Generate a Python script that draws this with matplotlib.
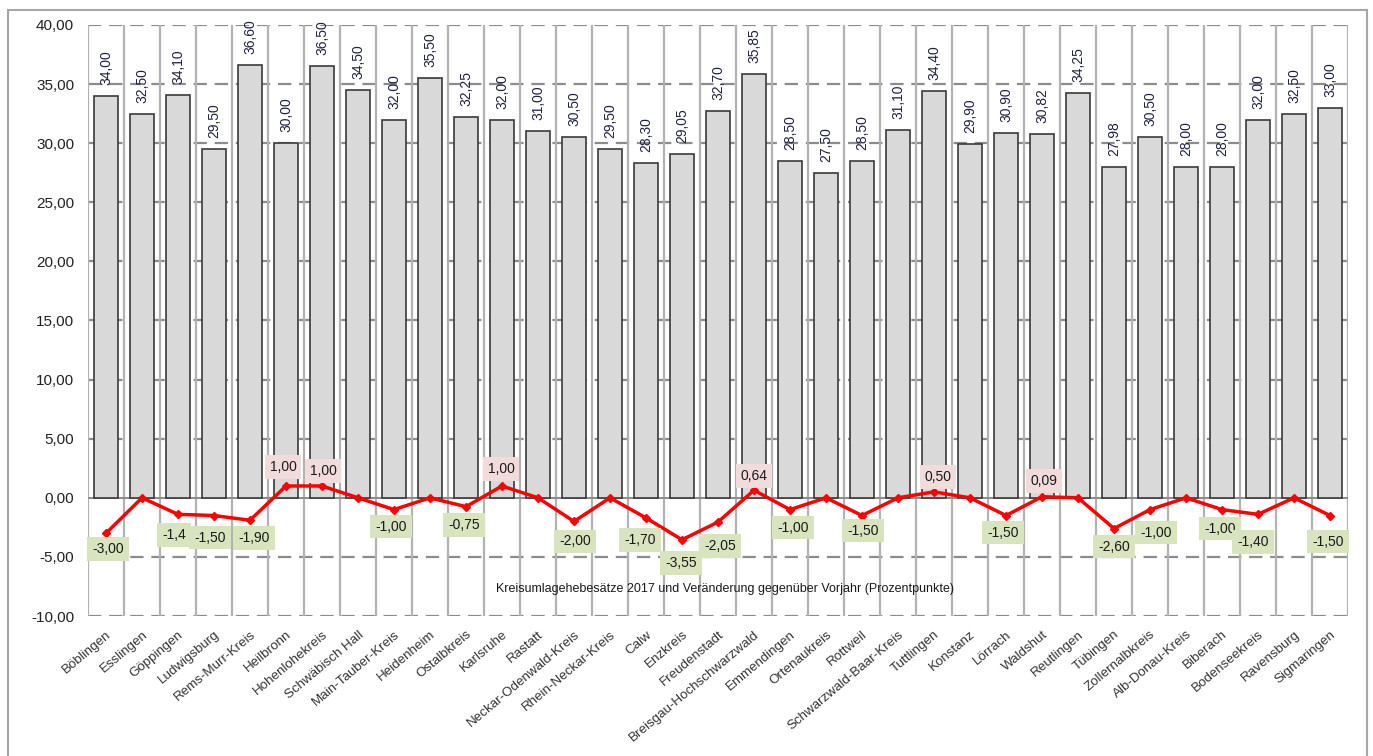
import matplotlib
matplotlib.use("Agg")
import matplotlib.pyplot as plt
import matplotlib.patches as patches
from matplotlib.ticker import FuncFormatter, MultipleLocator
import numpy as np

plt.rcParams['font.family'] = ['Liberation Sans', 'DejaVu Sans']

# Daten
kreise = ["Böblingen", "Esslingen", "Göppingen", "Ludwigsburg", "Rems-Murr-Kreis",
          "Heilbronn", "Hohenlohekreis", "Schwäbisch Hall", "Main-Tauber-Kreis",
          "Heidenheim", "Ostalbkreis", "Karlsruhe", "Rastatt", "Neckar-Odenwald-Kreis",
          "Rhein-Neckar-Kreis", "Calw", "Enzkreis", "Freudenstadt",
          "Breisgau-Hochschwarzwald", "Emmendingen", "Ortenaukreis", "Rottweil",
          "Schwarzwald-Baar-Kreis", "Tuttlingen", "Konstanz", "Lörrach", "Waldshut",
          "Reutlingen", "Tübingen", "Zollernalbkreis", "Alb-Donau-Kreis", "Biberach",
          "Bodenseekreis", "Ravensburg", "Sigmaringen"]

hebesatz_2017 = [34.00, 32.50, 34.10, 29.50, 36.60, 30.00, 36.50, 34.50, 32.00, 35.50,
                 32.25, 32.00, 31.00, 30.50, 29.50, 28.30, 29.05, 32.70, 35.85, 28.50,
                 27.50, 28.50, 31.10, 34.40, 29.90, 30.90, 30.82, 34.25, 27.98, 30.50,
                 28.00, 28.00, 32.00, 32.50, 33.00]

veraenderung = [-3.00, 0.00, -1.40, -1.50, -1.90, 1.00, 1.00, 0.00, -1.00, 0.00,
                -0.75, 1.00, 0.00, -2.00, 0.00, -1.70, -3.55, -2.05, 0.64, -1.00,
                0.00, -1.50, 0.00, 0.50, 0.00, -1.50, 0.09, 0.00, -2.60, -1.00,
                0.00, -1.00, -1.40, 0.00, -1.50]

veraenderung_text = ["-3,00", "", "-1,4", "-1,50", "-1,90", "1,00", "1,00", "", "-1,00", "",
                     "-0,75", "1,00", "", "-2,00", "", "-1,70", "-3,55", "-2,05", "0,64", "-1,00",
                     "", "-1,50", "", "0,50", "", "-1,50", "0,09", "", "-2,60", "-1,00",
                     "", "-1,00", "-1,40", "", "-1,50"]

titel = "Kreisumlagehebesätze 2017 und Veränderung gegenüber Vorjahr (Prozentpunkte)"

# Versatz der Wertelabels der Linie (Pixel), nur Layout
label_offset = [(2, -16), None, (-4, -21), (-4, -22), (4, -18), (-3, 19), (1, 15), None,
                (-3, -17), None, (-2, -18), (-1, 17), None, (1, -20), None, (-6, -22),
                (-1, -23), (2, -24), (0, 14), (3, -18), None, (1, -15), None, (4, 15),
                None, (-3, -17), (2, 16), None, (0, -18), (6, -23), None, (-2, -19),
                (-5, -28), None, (-2, -26)]

fig = plt.figure(figsize=(13.73, 7.56), dpi=100)
ax = fig.add_axes([88 / 1373, 1 - 616 / 756, 1260 / 1373, 591 / 756])

x = np.arange(len(kreise))

# Gitter
for yv in np.arange(-10, 41, 5):
    if yv == 0:
        continue
    ax.axhline(yv, color='#8c8c8c', lw=1.6, ls=(0, (6, 3.5)), zorder=1)
for xv in np.arange(-0.5, len(kreise), 1.0):
    ax.axvline(xv, color='#b2b2b2', lw=1.6, zorder=1)
ax.axhline(0, color='#8c8c8c', lw=1.4, zorder=1)

# Balken
ax.bar(x, hebesatz_2017, width=0.66, color='#d9d9d9', edgecolor='#3a3a3a', lw=1.2, zorder=2)
for xi, v in zip(x, hebesatz_2017):
    ax.annotate(f"{v:.2f}".replace('.', ','), (xi, v), xytext=(0, 11),
                textcoords='offset pixels', rotation=90, ha='center', va='bottom',
                fontsize=10, color='#1e2240', zorder=3)

# Linie
ax.plot(x, veraenderung, color='#ff0000', lw=2.5, marker='D', markersize=4.5, zorder=4)
for xi, v, t, off in zip(x, veraenderung, veraenderung_text, label_offset):
    if not t:
        continue
    fc = '#f2dcdb' if v > 0 else '#d7e4bd'
    ax.annotate(t, (xi, v), xytext=off, textcoords='offset pixels', ha='center', va='center',
                fontsize=10, color='#1a1a1a', zorder=5,
                bbox=dict(boxstyle='square,pad=0.35', fc=fc, ec='none'))

ax.text(17.2, -7.7, titel, ha='center', va='center', fontsize=9, color='#1a1a1a', zorder=5)

# Achsen
ax.set_xlim(-0.5, len(kreise) - 0.5)
ax.set_ylim(-10, 40)
ax.yaxis.set_major_locator(MultipleLocator(5))
ax.yaxis.set_major_formatter(FuncFormatter(lambda v, p: f"{v:.2f}".replace('.', ',')))
ax.tick_params(axis='y', length=0, pad=10, labelsize=11, labelcolor='#222222')
ax.set_xticks(x)
ax.set_xticklabels(kreise, rotation=40, ha='right', rotation_mode='anchor', fontsize=9.6,
                   color='#333333')
ax.tick_params(axis='x', length=0, pad=9)
for s in ax.spines.values():
    s.set_visible(False)

# Rahmen um das ganze Diagramm
fig.patches.append(patches.Rectangle((8 / 1373, -0.01), 1359 / 1373, 1 - 10 / 756 + 0.01,
                                     transform=fig.transFigure, fill=False,
                                     edgecolor='#a6a6a6', lw=1.5))

fig.savefig("out.png", dpi=100)
